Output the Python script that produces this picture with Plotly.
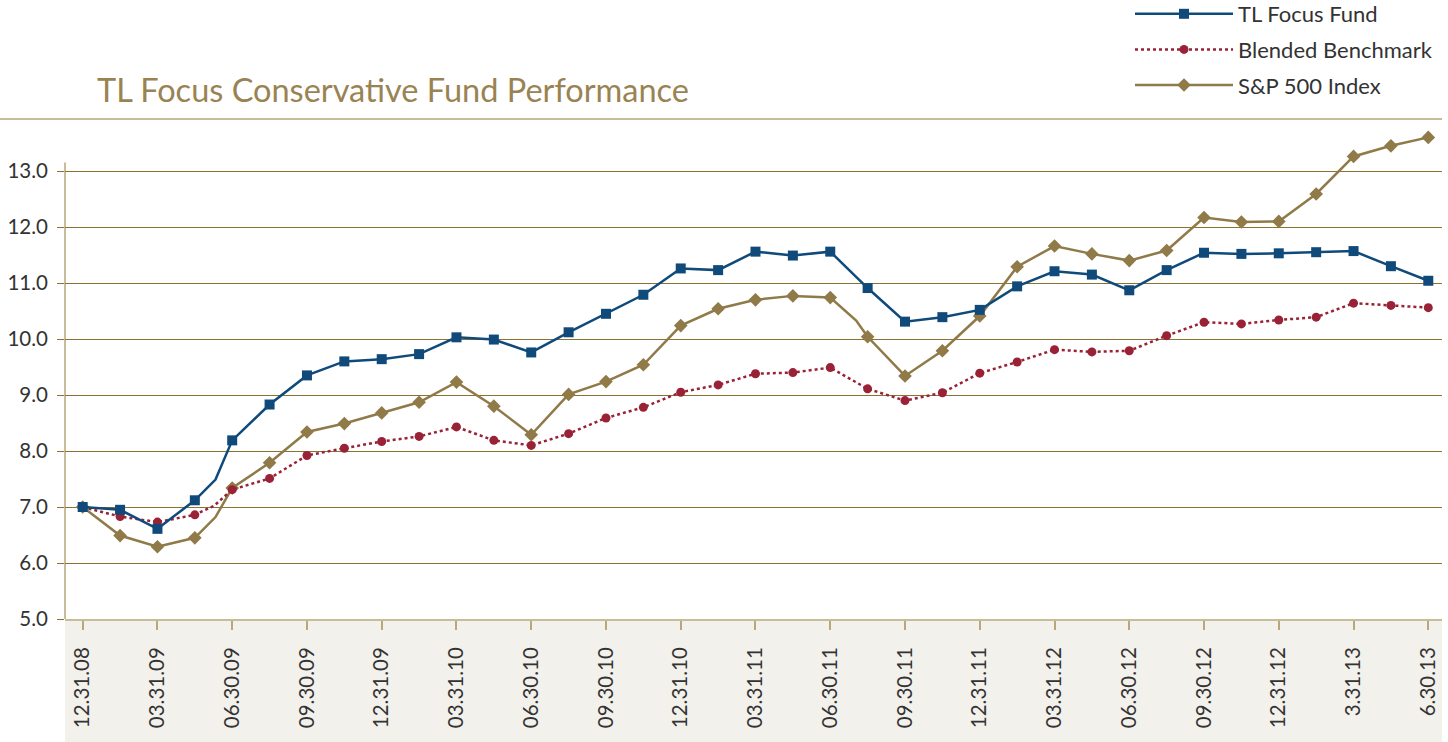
import plotly.graph_objects as go

# ---------------- data ----------------
# x positions in months after 12.31.08 (points every half quarter)
months = [0, 1.5, 3, 4.5, 6, 7.5, 9, 10.5, 12, 13.5, 15, 16.5, 18, 19.5, 21, 22.5,
          24, 25.5, 27, 28.5, 30, 31.5, 33, 34.5, 36, 37.5, 39, 40.5, 42, 43.5,
          45, 46.5, 48, 49.5, 51, 52.5, 54]

tl_focus = [7.00, 6.95, 6.61, 7.12, 8.19, 8.83, 9.35, 9.60, 9.64, 9.73, 10.03, 9.99,
            9.76, 10.12, 10.45, 10.79, 11.26, 11.23, 11.56, 11.49, 11.56, 10.91, 10.31,
            10.39, 10.52, 10.94, 11.21, 11.15, 10.87, 11.23, 11.54, 11.52, 11.53, 11.55,
            11.57, 11.30, 11.04]

blended = [7.00, 6.83, 6.73, 6.86, 7.31, 7.51, 7.92, 8.05, 8.17, 8.26, 8.43, 8.19,
           8.10, 8.31, 8.59, 8.78, 9.05, 9.18, 9.38, 9.40, 9.49, 9.11, 8.90, 9.04,
           9.39, 9.59, 9.81, 9.77, 9.79, 10.06, 10.30, 10.27, 10.34, 10.39, 10.64,
           10.60, 10.56]

sp500 = [7.00, 6.49, 6.29, 6.45, 7.34, 7.79, 8.34, 8.49, 8.68, 8.87, 9.23, 8.80,
         8.29, 9.01, 9.24, 9.54, 10.24, 10.54, 10.70, 10.77, 10.74, 10.04, 9.34,
         9.79, 10.41, 11.29, 11.66, 11.52, 11.40, 11.58, 12.17, 12.09, 12.10, 12.59,
         13.26, 13.45, 13.60]

# intermediate (unmarked) points where the lines bend
tl_extra_months = [5.33]
tl_extra_values = [7.49]
bb_extra_months = [5.27]
bb_extra_values = [7.02]
sp_extra_months = [5.33, 31.04]
sp_extra_values = [6.82, 10.33]

tick_months = [0, 3, 6, 9, 12, 15, 18, 21, 24, 27, 30, 33, 36, 39, 42, 45, 48, 51, 54]
tick_labels = ["12.31.08", "03.31.09", "06.30.09", "09.30.09", "12.31.09", "03.31.10",
               "06.30.10", "09.30.10", "12.31.10", "03.31.11", "06.30.11", "09.30.11",
               "12.31.11", "03.31.12", "06.30.12", "09.30.12", "12.31.12", "3.31.13",
               "6.30.13"]

y_ticks = [5, 6, 7, 8, 9, 10, 11, 12, 13]

# ---------------- styles ----------------
NAVY = "#0f4a7b"
RED = "#9a2236"
GOLD = "#8f7a48"
GRID = "#8a7232"
AXIS = "#c9bc98"
TITLE = "#9a8353"
TEXT = "#333333"
FONT = "Lato"


def merged(xs, ys, ex, ey):
    pts = sorted(list(zip(xs, ys)) + list(zip(ex, ey)))
    return [p[0] for p in pts], [p[1] for p in pts]


series = [
    ("S&P 500 Index", sp500, sp_extra_months, sp_extra_values, GOLD, "solid", "diamond", 10.5),
    ("Blended Benchmark", blended, bb_extra_months, bb_extra_values, RED, "dot", "circle", 9),
    ("TL Focus Fund", tl_focus, tl_extra_months, tl_extra_values, NAVY, "solid", "square", 10),
]
legend_rank = {"TL Focus Fund": 1, "Blended Benchmark": 2, "S&P 500 Index": 3}

fig = go.Figure()
for name, vals, ex, ey, col, dash, sym, size in series:
    lx, ly = merged(months, vals, ex, ey)
    fig.add_trace(go.Scatter(x=lx, y=ly, mode="lines", line=dict(color=col, width=2.5, dash=dash),
                             showlegend=False, legendgroup=name, hoverinfo="skip"))
    fig.add_trace(go.Scatter(x=months, y=vals, mode="markers", name=name,
                             marker=dict(symbol=sym, size=size, color=col, line=dict(width=0)),
                             showlegend=False, legendgroup=name))
    fig.add_trace(go.Scatter(x=[None], y=[None], mode="lines+markers", name=name,
                             line=dict(color=col, width=2.5, dash=dash),
                             marker=dict(symbol=sym, size=size, color=col, line=dict(width=0)),
                             legendgroup=name, legendrank=legend_rank[name], showlegend=True))

W, H = 1448, 742
ml, mr, mt, mb = 65, 6, 129, 123
plot_h = H - mt - mb

fig.update_layout(
    width=W, height=H,
    margin=dict(l=ml, r=mr, t=mt, b=mb, pad=0, autoexpand=False),
    paper_bgcolor="white", plot_bgcolor="white",
    font=dict(family=FONT, color=TEXT),
    title=dict(text="TL Focus Conservative Fund Performance", x=97 / W, xanchor="left",
               xref="container", yref="container", y=1 - 91 / H, yanchor="middle",
               font=dict(family=FONT, size=32.5, color=TITLE)),
    showlegend=True,
    legend=dict(x=1130 / W, xanchor="left", xref="container",
                y=1 + (mt + 7) / plot_h, yanchor="top", yref="paper",
                font=dict(family=FONT, size=22, color=TEXT),
                bgcolor="rgba(0,0,0,0)", tracegroupgap=4, itemwidth=98,
                traceorder="grouped"),
    xaxis=dict(range=[-0.71, 54.55], tickvals=tick_months, ticktext=tick_labels,
               tickangle=-90, showgrid=False, zeroline=False, showline=True, automargin=False,
               linecolor=AXIS, linewidth=2, ticks="outside", ticklen=9, tickwidth=1.5,
               tickcolor="#b8a778", tickfont=dict(family=FONT, size=20.5, color=TEXT),
               ticklabelstandoff=9),
    yaxis=dict(range=[5.0, 13.75], tickvals=y_ticks, tickformat=".1f", showgrid=True,
               gridcolor=GRID, gridwidth=1.3, zeroline=False, showline=False, automargin=False,
               ticks="outside", ticklen=7, tickwidth=1.3, tickcolor=GRID,
               tickfont=dict(family=FONT, size=20.5, color=TEXT), ticklabelstandoff=5),
)

# beige band below x axis
fig.add_shape(type="rect", xref="paper", yref="paper", x0=0, x1=1, y0=-mb / plot_h, y1=0,
              fillcolor="#f3f1ec", line=dict(width=0), layer="below")
# vertical axis line stopping just above 13.0
fig.add_shape(type="line", xref="paper", yref="y", x0=0, x1=0, y0=4.88, y1=13.15,
              line=dict(color=AXIS, width=2), layer="below")
# separator under the title
fig.add_shape(type="line", xref="paper", yref="paper", x0=-ml / (W - ml - mr), x1=1,
              y0=1 + (mt - 119) / plot_h, y1=1 + (mt - 119) / plot_h,
              line=dict(color=AXIS, width=2))

fig.write_html("out.html", config={"displayModeBar": False},
               post_script="document.body.style.margin='0px';document.body.style.padding='0px';")
